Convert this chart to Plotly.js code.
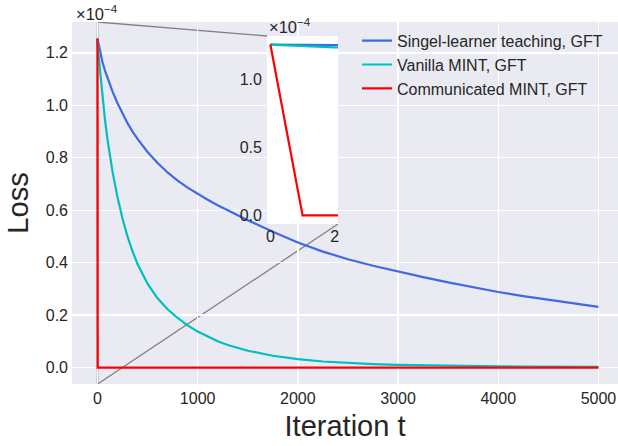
<!DOCTYPE html>
<html>
<head>
<meta charset="utf-8">
<script src="https://cdn.plot.ly/plotly-3.0.1.min.js"></script>
<style>html,body{margin:0;padding:0;background:#fff;}#chart{width:618px;height:446px;}</style>
</head>
<body>
<div id="chart"></div>
<script>
// Values in units of 1e-4 (as labelled on the chart)
const iterations = [0,1,2,25,50,75,100,125,150,200,250,300,350,400,500,600,700,800,900,1000,1100,1200,1300,1400,1500,1750,2000,2250,2500,2750,3000,3250,3500,3750,4000,4250,4500,4750,5000];
const singleLearner = [1.255,1.253,1.251,1.205,1.165,1.132,1.103,1.077,1.053,1.008,0.968,0.932,0.900,0.872,0.822,0.780,0.744,0.713,0.686,0.662,0.640,0.619,0.599,0.580,0.562,0.518,0.477,0.442,0.413,0.388,0.366,0.345,0.325,0.306,0.288,0.2725,0.258,0.2445,0.2315];
const vanillaMint = [1.255,1.244,1.234,1.135,1.030,0.945,0.870,0.805,0.748,0.650,0.568,0.500,0.443,0.395,0.320,0.264,0.222,0.189,0.161,0.137,0.117,0.100,0.086,0.074,0.064,0.045,0.032,0.023,0.017,0.013,0.010,0.008,0.0066,0.0055,0.0047,0.004,0.0035,0.0031,0.0028];
const commIterations = [0,1,2,5000];
const communicatedMint = [1.255,0.0,0.0,0.0];
const seriesNames = ['Singel-learner teaching, GFT','Vanilla MINT, GFT','Communicated MINT, GFT'];
const seriesColors = ['#4169E1','#00BFBF','#FF0000'];
const xTicks = [0,1000,2000,3000,4000,5000];
const yTicks = [0,0.2,0.4,0.6,0.8,1.0,1.2];
const insetXTicks = [0,2];
const insetYTicks = [0,0.5,1.0];

const FONT = 'Liberation Sans, Arial, sans-serif';
const TXT = '#262626';
const TICK = 16;
const xr = [-254, 5195];
const yr = [-0.0628, 1.3178];
const ixr = [-0.105, 2.1];
const insetDomX = [0.3571, 0.4872];
const insetDomY = [0.442, 0.9613];

const xs = [iterations, iterations, commIterations];
const ys = [singleLearner, vanillaMint, communicatedMint];
const traces = [];
for (let i = 0; i < 3; i++) {
  traces.push({x: xs[i], y: ys[i], type:'scatter', mode:'lines', name: seriesNames[i],
    line:{color: seriesColors[i], width:2.2}, xaxis:'x', yaxis:'y'});
}
for (let i = 0; i < 3; i++) {
  traces.push({x: xs[i], y: ys[i], type:'scatter', mode:'lines', showlegend:false,
    line:{color: seriesColors[i], width:2.2}, xaxis:'x2', yaxis:'y2'});
}

// inset corners expressed in main data coords (for connector lines)
const ulx = xr[0] + insetDomX[0]*(xr[1]-xr[0]);
const uly = yr[0] + insetDomY[1]*(yr[1]-yr[0]);
const lrx = xr[0] + insetDomX[1]*(xr[1]-xr[0]);
const lry = yr[0] + insetDomY[0]*(yr[1]-yr[0]);

const layout = {
  width:618, height:446,
  margin:{l:72, r:0, t:22, b:62},
  paper_bgcolor:'#ffffff',
  plot_bgcolor:'#EAEAF2',
  font:{family:FONT, color:TXT, size:TICK},
  showlegend:true,
  legend:{x:0.522, y:0.995, xanchor:'left', yanchor:'top', bgcolor:'rgba(0,0,0,0)',
    font:{family:FONT, size:16, color:TXT}, borderwidth:0},
  xaxis:{domain:[0,1], range:xr, tickvals:xTicks, showgrid:true, gridcolor:'#ffffff', gridwidth:1.3,
    zeroline:false, showline:false, ticks:'', ticklabelstandoff:3, tickfont:{family:FONT,size:TICK,color:TXT},
    title:{text:'Iteration t', font:{family:FONT,size:29,color:TXT}, standoff:9}},
  yaxis:{domain:[0,1], range:yr, tickvals:yTicks, tickformat:'.1f', showgrid:true, gridcolor:'#ffffff', gridwidth:1.3,
    zeroline:false, showline:false, ticks:'', ticklabelstandoff:3, tickfont:{family:FONT,size:TICK,color:TXT},
    title:{text:'Loss', font:{family:FONT,size:29,color:TXT}, standoff:8}},
  xaxis2:{domain:insetDomX, anchor:'y2', range:ixr, tickvals:insetXTicks, showgrid:false, zeroline:false,
    showline:false, ticks:'', ticklabelstandoff:1, tickfont:{family:FONT,size:TICK,color:TXT}},
  yaxis2:{domain:insetDomY, anchor:'x2', range:yr, tickvals:insetYTicks, tickformat:'.1f', showgrid:false, zeroline:false,
    showline:false, ticks:'', ticklabelstandoff:4, tickfont:{family:FONT,size:TICK,color:TXT}},
  shapes:[
    {type:'rect', xref:'x2', yref:'y2', x0:ixr[0], x1:ixr[1], y0:yr[0], y1:yr[1], fillcolor:'#ffffff', line:{width:0}, layer:'below'},
    {type:'rect', xref:'x', yref:'y', x0:ixr[0], x1:ixr[1], y0:yr[0], y1:yr[1], line:{color:'#808080', width:1.3}, layer:'below'},
    {type:'line', xref:'x', yref:'y', x0:ixr[0], y0:yr[1], x1:ulx, y1:uly, line:{color:'#808080', width:1.3}, layer:'below'},
    {type:'line', xref:'x', yref:'y', x0:ixr[1], y0:yr[0], x1:lrx, y1:lry, line:{color:'#808080', width:1.3}, layer:'below'}
  ],
  annotations:[
    {text:'×10<sup>−4</sup>', xref:'paper', yref:'paper', x:0.003, y:1.058, xanchor:'left', yanchor:'top', showarrow:false, font:{family:FONT,size:16.5,color:TXT}},
    {text:'×10<sup>−4</sup>', xref:'paper', yref:'paper', x:0.357, y:1.022, xanchor:'left', yanchor:'top', showarrow:false, font:{family:FONT,size:16.5,color:TXT}}
  ]
};
Plotly.newPlot('chart', traces, layout, {displayModeBar:false, staticPlot:true});
</script>
</body>
</html>
